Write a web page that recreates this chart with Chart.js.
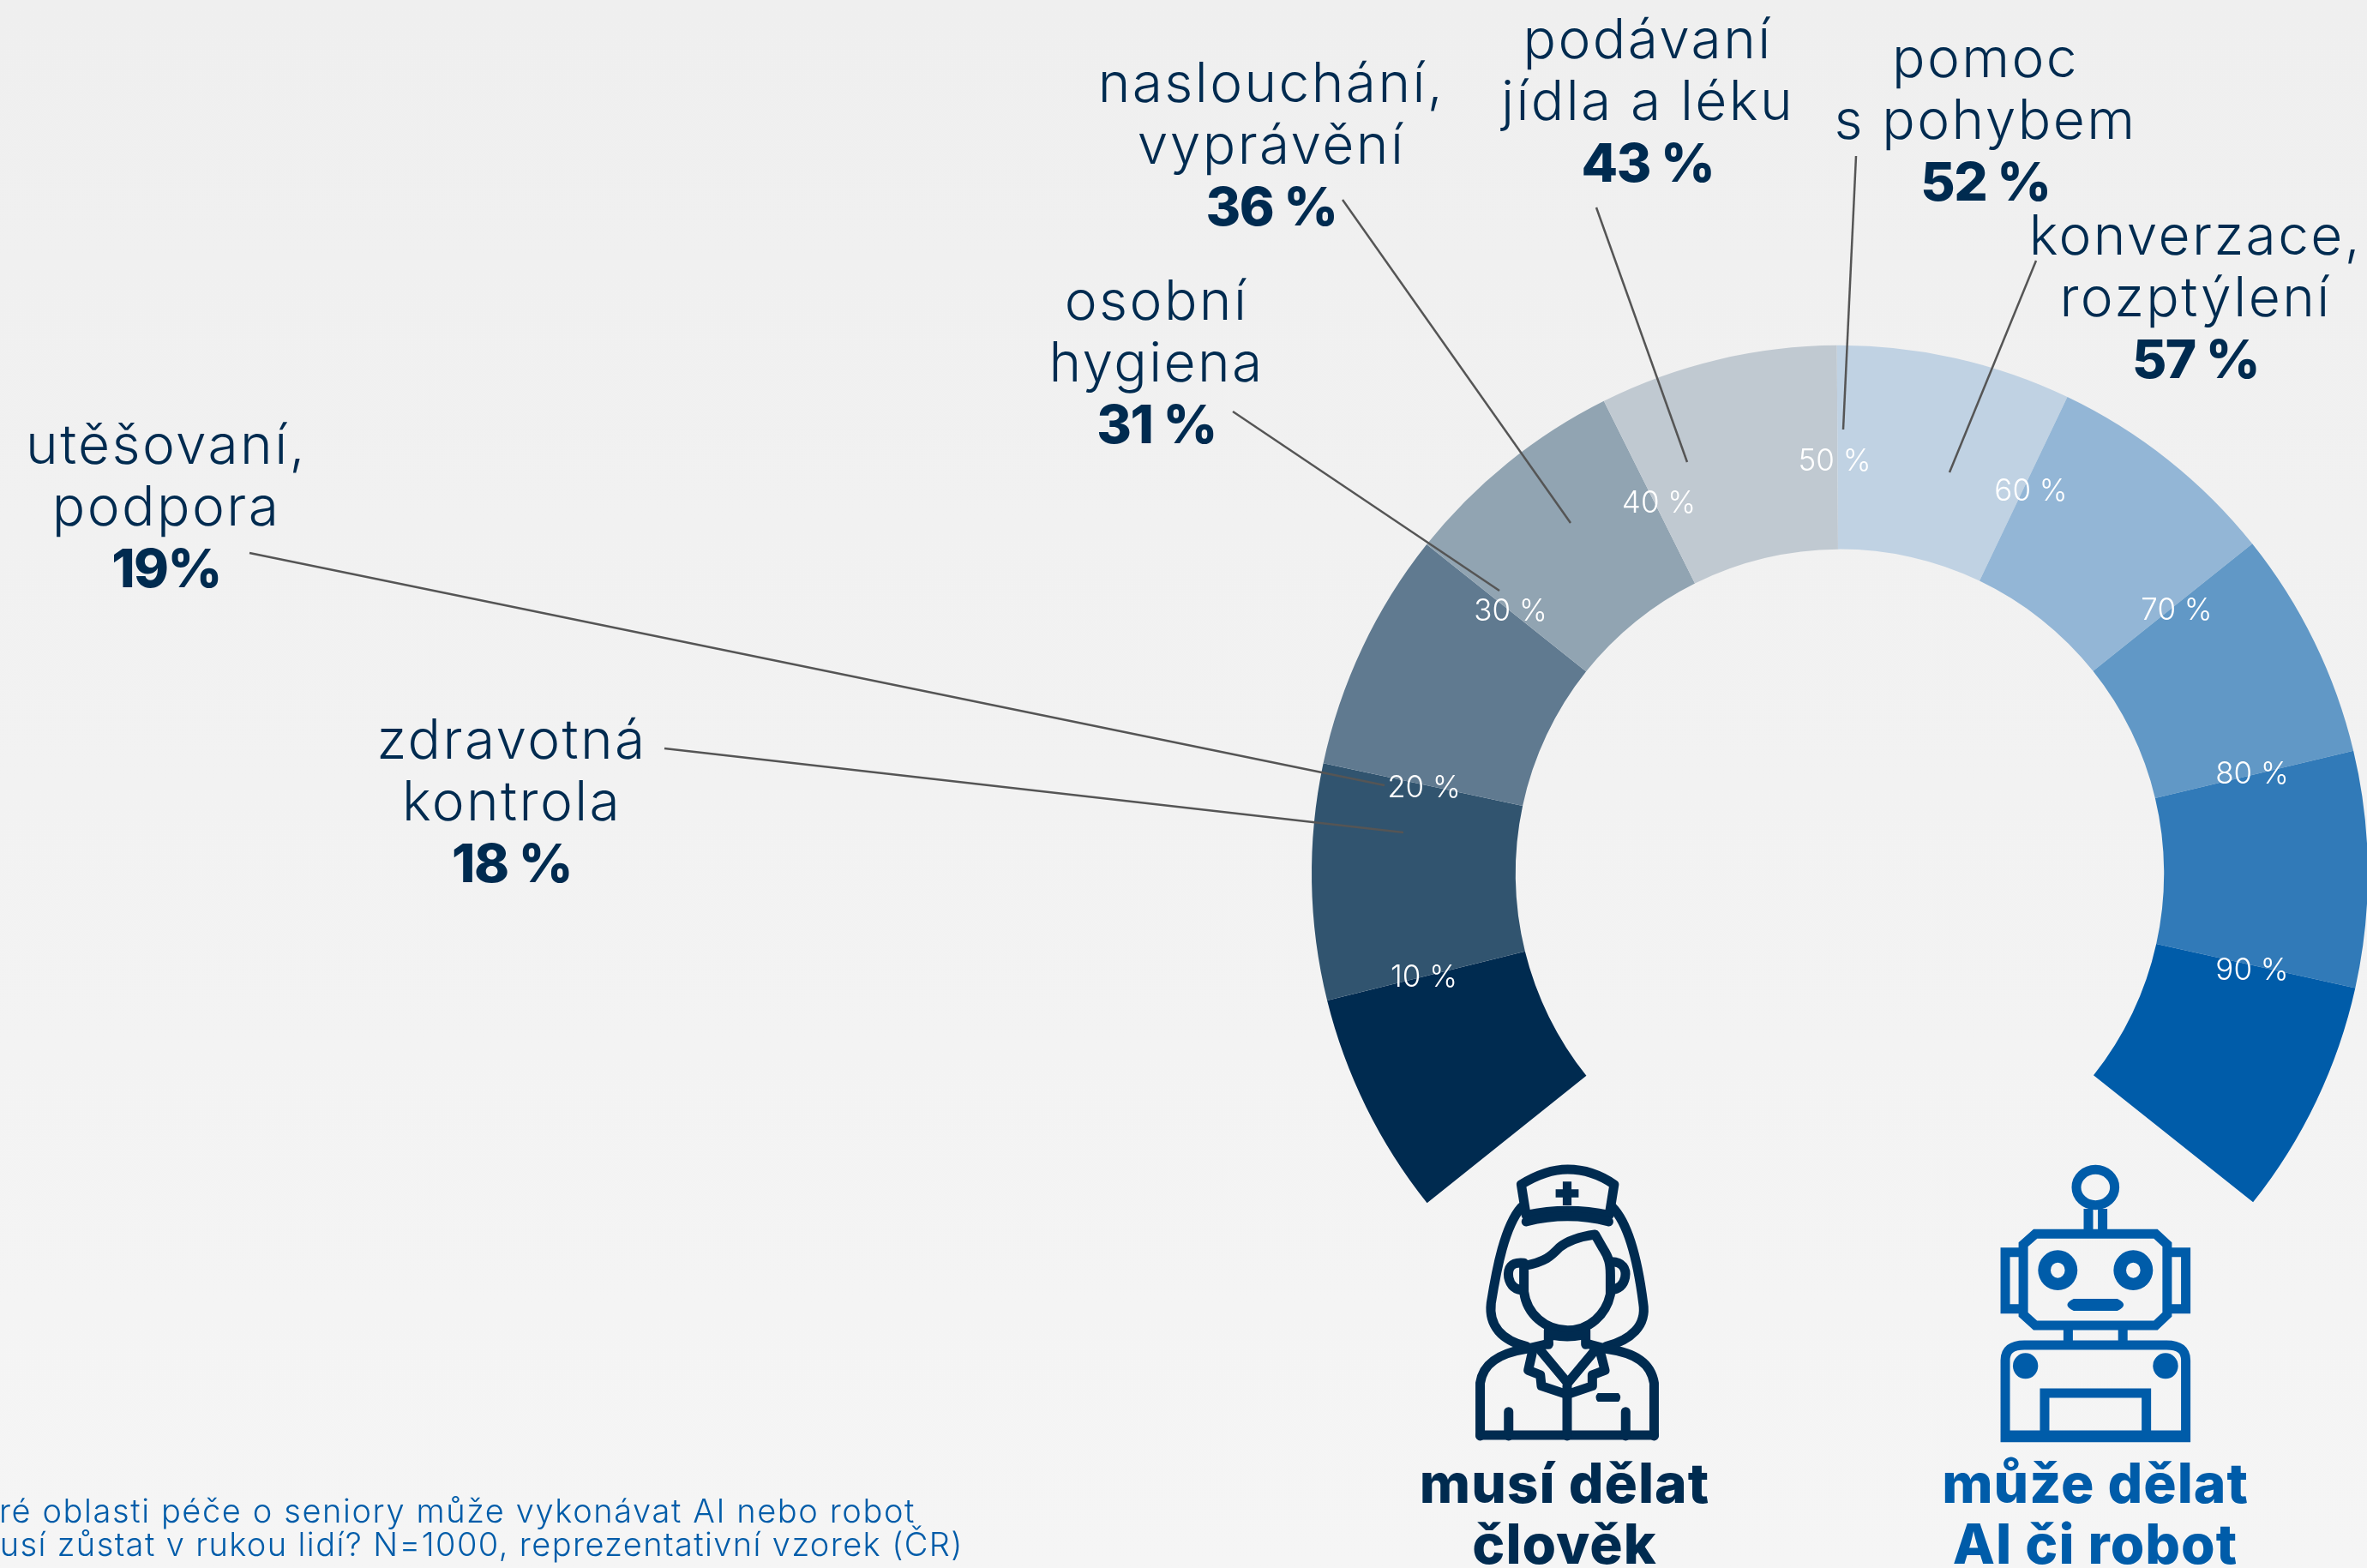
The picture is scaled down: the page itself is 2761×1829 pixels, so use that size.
<!DOCTYPE html>
<html><head><meta charset="utf-8">
<style>
html,body{margin:0;padding:0;width:2761px;height:1829px;overflow:hidden;background:linear-gradient(180deg,#efefef 0%,#f5f5f5 100%)}
canvas{position:absolute;left:0;top:0}
</style>
<script src="https://cdn.jsdelivr.net/npm/chart.js@4"></script></head>
<body><canvas id="c" width="2761" height="1829"></canvas>
<script>
// ---------- data ----------
const categories = ['0-10','10-20','20-30','30-40','40-50','50-60','60-70','70-80','80-90','90-100'];
const bandValues = [9.6,10.1,10.3,9.7,10.2,10.05,10.05,9.8,10.1,10.1];
const bandColors = ['#002b50','#31546f','#607a90','#91a4b2','#c0c9d1','#c0d2e3','#93b6d6','#6198c6','#317ab8','#005ca9'];
const tickLabels = ['10 %','20 %','30 %','40 %','50 %','60 %','70 %','80 %','90 %'];
const calloutNames = [['utěšovaní,','podpora'],['zdravotná','kontrola'],['osobní','hygiena'],['naslouchání,','vyprávění'],['podávaní','jídla a léku'],['pomoc','s pohybem'],['konverzace,','rozptýlení']];
const calloutValues = ['19%','18 %','31 %','36 %','43 %','52 %','57 %'];
// ---------- layout ----------
const tickPos = [[1661,1139],[1661,918],[1762,712],[1935,586],[2140,537],[2369,572],[2539,711],[2627,902],[2627,1131]];
const calloutPos = [[194,541],[597,885],[1349,373],[1483,119],[1922,68],[2316,90],[2561,297]];
const leaders = [[291,645,1615,916],[775,873,1637,971],[1438,480,1749,689],[1566,233,1832,610],[1862,242,1968,539],[2165,182,2150,501],[2375,304,2274,551]];
const NAVY='#002b50', BLUE='#005ca9';
const FAMILY='Inter, "Noto Sans", sans-serif';

function txt(ctx,s,x,y,font,color,align,ls){
  ctx.font=font;ctx.fillStyle=color;ctx.textAlign=align||'center';ctx.textBaseline='alphabetic';
  ctx.letterSpacing=(ls||0)+'px';ctx.fillText(s,x,y);ctx.letterSpacing='0px';
}
const ICON_M=new DOMMatrix([.638,0,0,.3333,1650,1330]);
function P(d){const p=new Path2D();p.addPath(new Path2D(d),ICON_M);return p;}
function ell(cx,cy,rx,ry){return `M${cx-rx} ${cy}A${rx} ${ry} 0 1 0 ${cx+rx} ${cy}A${rx} ${ry} 0 1 0 ${cx-rx} ${cy}Z`;}

const nurseStroke=[
 'M195 155Q240 102 280 102Q325 102 365 155L356 262Q280 232 204 262Z',
 'M195 235C165 300 150 450 140 570C135 650 160 700 205 722',
 'M362 235C395 300 410 450 418 570C425 650 395 700 350 722',
 'M204 285Q280 248 355 285',
 'M200 440C240 425 250 405 265 375C285 345 310 335 330 330L345 380C355 410 358 430 358 470L358 540C350 610 320 665 280 665C240 665 205 610 200 530Z',
 'M200 430C175 425 170 450 172 480C175 510 185 525 200 525',
 'M360 425C380 425 388 450 385 480C382 510 372 522 358 525',
 'M245 665L245 715M313 665L313 715M252 682Q280 692 305 682',
 'M120 1035L120 850C125 780 155 745 205 730L245 712M438 1035L438 850C432 780 405 745 350 730L315 712',
 'M120 1032L438 1032',
 'M215 745L208 805L230 822L232 860L279 890L325 860L325 822L348 805L340 745',
 'M230 735L280 850L330 735',
 'M279 860L279 1035',
 'M172 950L172 1035M386 950L386 1035'
];
const nurseFill=['M271 145H287V228H271ZM258 172H300V200H258Z','M335 885H373Q380 900 373 915H335Q328 900 335 885Z'];
const robotStroke=[
 ell(1245,165,35,62),
 'M1232 240V315M1258 240V315',
 'M1135 328H1355L1376 365V610L1355 648H1135L1113 610V365Z',
 'M1113 392H1080V590H1113M1376 392H1410V590H1376',
 'M1195 650V708M1295 650V708',
 'M1080 1040V770Q1080 717 1115 717H1375Q1410 717 1410 770V1040Z',
 'M1152 1030V885H1338V1030',
 'M1080 1032H1410'
];
const robotFill=[
 ell(1176,455,36,70)+ell(1176,455,13,27),
 ell(1314,455,36,70)+ell(1314,455,13,27),
 'M1205 555H1285Q1308 576 1285 597H1205Q1182 576 1205 555Z',
 ell(1117,790,23,45),ell(1373,790,23,45)
];

const overlay={id:'overlay',afterDraw(chart){
  const ctx=chart.ctx;ctx.save();
  ctx.strokeStyle='#555555';ctx.lineWidth=2.5;
  leaders.forEach(l=>{ctx.beginPath();ctx.moveTo(l[0],l[1]);ctx.lineTo(l[2],l[3]);ctx.stroke();});
  tickLabels.forEach((t,i)=>txt(ctx,t,tickPos[i][0],tickPos[i][1]+12,'300 35px '+FAMILY,'#ffffff','center',0));
  calloutNames.forEach((n,i)=>{
    const [x,y]=calloutPos[i];
    n.forEach((s,j)=>txt(ctx,s,x,y+j*71.5,'300 64px '+FAMILY,NAVY,'center',2.4));
    txt(ctx,calloutValues[i],x,y+2*71.5+1,'800 62px '+FAMILY,NAVY,'center',-1.5);
  });
  txt(ctx,'musí dělat',1825,1753,'800 64px '+FAMILY,NAVY,'center',1);
  txt(ctx,'člověk',1825,1824,'800 64px '+FAMILY,NAVY,'center',1);
  txt(ctx,'může dělat',2444,1753,'800 64px '+FAMILY,BLUE,'center',1);
  txt(ctx,'AI či robot',2444,1824,'800 64px '+FAMILY,BLUE,'center',1);
  txt(ctx,'ré oblasti péče o seniory může vykonávat AI nebo robot',1068,1776,'300 38px '+FAMILY,BLUE,'right',1.6);
  txt(ctx,'usí zůstat v rukou lidí? N=1000, reprezentativní vzorek (ČR)',1124,1815,'300 38px '+FAMILY,BLUE,'right',1.4);
  ctx.lineJoin='round';ctx.lineCap='round';ctx.lineWidth=11;
  ctx.strokeStyle=NAVY;ctx.fillStyle=NAVY;
  nurseStroke.forEach(d=>ctx.stroke(P(d)));nurseFill.forEach(d=>ctx.fill(P(d)));
  ctx.strokeStyle=BLUE;ctx.fillStyle=BLUE;ctx.lineJoin='miter';ctx.lineCap='butt';
  robotStroke.forEach(d=>ctx.stroke(P(d)));robotFill.forEach(d=>ctx.fill(P(d),'evenodd'));
  ctx.restore();
}};

new Chart(document.getElementById('c'),{
  type:'doughnut',
  data:{labels:categories,datasets:[{data:bandValues,backgroundColor:bandColors,borderWidth:0,clip:false}]},
  plugins:[overlay],
  options:{responsive:false,animation:false,rotation:-128.6,circumference:257.1,radius:616,cutout:'61.4%',
    layout:{padding:{left:1531,right:0,top:0,bottom:23}},
    plugins:{legend:{display:false},tooltip:{enabled:false},title:{display:false}}}
});
</script></body></html>
